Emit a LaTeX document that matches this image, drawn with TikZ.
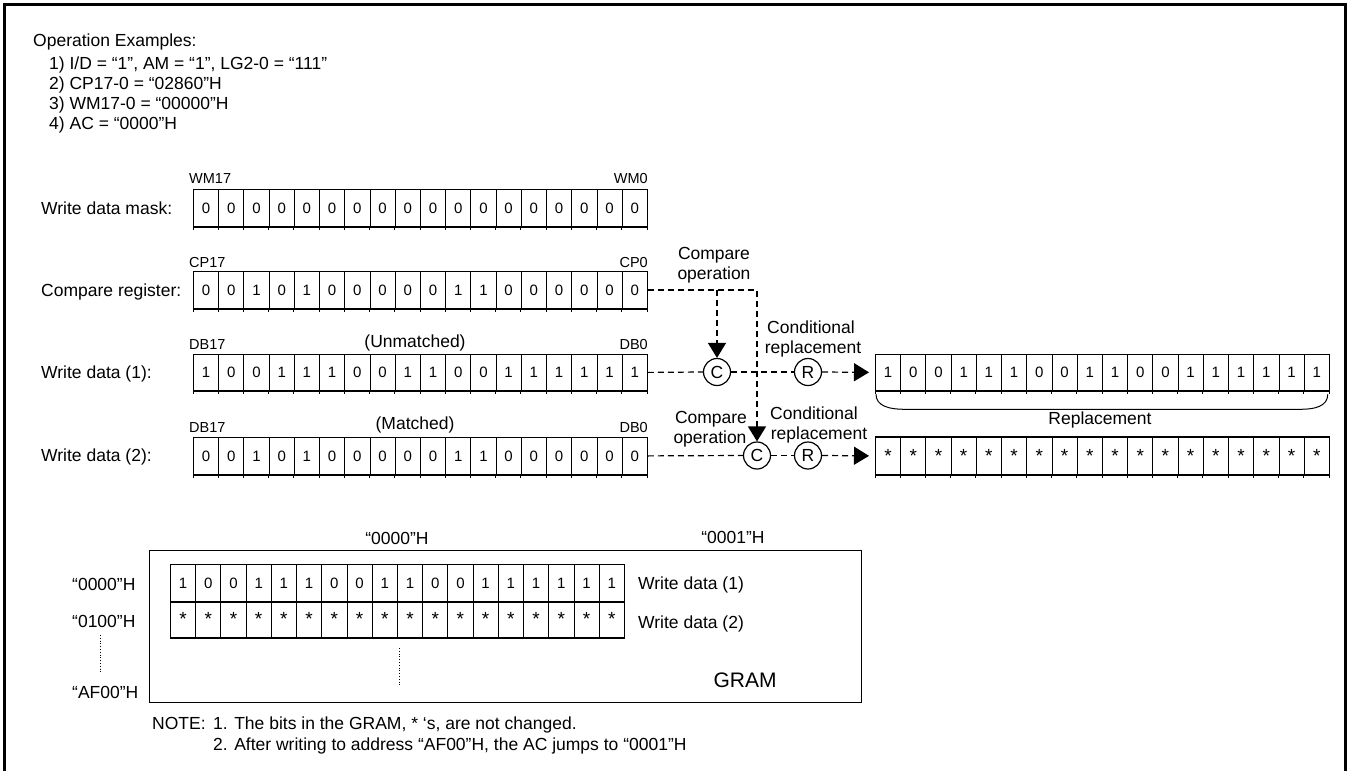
\documentclass[tikz,border=0pt]{standalone}
\usepackage{fontspec}
\setmainfont{Liberation Sans}
\usetikzlibrary{arrows.meta,calc}

\newcommand\mystar{{\fontsize{19}{20}\selectfont *}}
\newcommand\mybitrow[4]{%
  \foreach \v [count=\i] in {#4} {
    \node[bit] (#1\i) at ({#2+(\i-1)*25.22}, #3) {\v};
    \draw[line width=0.8pt] (#1\i.south west) -- ++(0,3);
  }%
  \draw[line width=0.8pt] (#118.south east) -- ++(0,3);
  \draw[line width=1.8pt] (#11.south west) -- (#118.south east);
}
\newcommand\mygramrow[4]{%
  \foreach \v [count=\i] in {#4} {
    \node[bit] (#1\i) at ({#2+(\i-1)*25.22}, #3) {\v};
  }%
  \draw[line width=1.8pt] (#11.south west) -- (#118.south east);
}

\begin{document}
\begin{tikzpicture}[x=1pt,y=-1pt,
  lbl/.style={font=\fontsize{17.5}{20}\selectfont, inner sep=0pt},
  sm/.style={font=\fontsize{14.5}{16}\selectfont, inner sep=0pt},
  bit/.style={draw, line width=0.8pt, minimum width=25.22pt, minimum height=37pt,
    inner sep=0pt, font=\fontsize{15}{16}\selectfont, anchor=north west},
  dsh/.style={dash pattern=on 6pt off 4pt, line width=1.2pt},
  tri/.style={-{Triangle[length=15pt,width=18pt]}},
  circ/.style={draw, circle, minimum size=27pt, inner sep=0pt, line width=1.2pt,
    font=\fontsize{17.5}{20}\selectfont},
]
\useasboundingbox (0,0) rectangle (1353,771);
% frame
\draw[line width=3pt] (4,772) -- (4,4) -- (1345.5,4) -- (1345.5,772);

% operation examples
\node[lbl, anchor=base west] (opex) at (33,46) {Operation Examples:};
\node[lbl, anchor=base west] (ex1) at (49,69) {1) I/D = “1”, AM = “1”, LG2-0 = “111”};
\node[lbl, anchor=base west] (ex2) at (49,89) {2) CP17-0 = “02860”H};
\node[lbl, anchor=base west] (ex3) at (49,109) {3) WM17-0 = “00000”H};
\node[lbl, anchor=base west] (ex4) at (49,129) {4) AC = “0000”H};

% rows
\node[lbl, anchor=base west] (lmask) at (41,214) {Write data mask:};
\node[sm, anchor=base west] (wm17) at (189,183.5) {WM17};
\node[sm, anchor=base east] (wm0) at (648,183.5) {WM0};
\mybitrow{m}{193}{189}{0,0,0,0,0,0,0,0,0,0,0,0,0,0,0,0,0,0}

\node[lbl, anchor=base west] (lcp) at (41,296) {Compare register:};
\node[sm, anchor=base west] (cp17) at (189,267.5) {CP17};
\node[sm, anchor=base east] (cp0) at (648,267.5) {CP0};
\mybitrow{c}{193}{271}{0,0,1,0,1,0,0,0,0,0,1,1,0,0,0,0,0,0}

\node[lbl, anchor=base west] (lwd1) at (41,378.5) {Write data (1):};
\node[sm, anchor=base west] (db17a) at (189,349) {DB17};
\node[sm, anchor=base east] (db0a) at (648,349) {DB0};
\node[lbl, anchor=base] (unm) at (415,347) {(Unmatched)};
\mybitrow{a}{193}{353.5}{1,0,0,1,1,1,0,0,1,1,0,0,1,1,1,1,1,1}

\node[lbl, anchor=base west] (lwd2) at (41,461.5) {Write data (2):};
\node[sm, anchor=base west] (db17b) at (189,432.5) {DB17};
\node[sm, anchor=base east] (db0b) at (648,432.5) {DB0};
\node[lbl, anchor=base] (mat) at (415,429) {(Matched)};
\mybitrow{b}{193}{437}{0,0,1,0,1,0,0,0,0,0,1,1,0,0,0,0,0,0}

% replacement rows
\mybitrow{p}{875}{353.5}{1,0,0,1,1,1,0,0,1,1,0,0,1,1,1,1,1,1}
\mybitrow{q}{875}{437}{\mystar,\mystar,\mystar,\mystar,\mystar,\mystar,\mystar,\mystar,\mystar,\mystar,\mystar,\mystar,\mystar,\mystar,\mystar,\mystar,\mystar,\mystar}
\draw[line width=1.8pt] (q1.north west) -- (q18.north east);
\draw[line width=1pt] (p1.south west) ++(1,3) .. controls +(0,12) and +(-14,0) .. ++(28,15)
  -- ($(p18.south east)+(-29,18)$) .. controls +(14,0) and +(0,12) .. ($(p18.south east)+(-2,3)$);
\node[lbl, anchor=base] (repl) at (1100,424) {Replacement};

% circles
\node[circ] (C1) at (717,372) {C};
\node[circ] (R1) at (808,372) {R};
\node[circ] (C2) at (757,455.5) {C};
\node[circ] (R2) at (808,455.5) {R};

% connectors
\coordinate (br) at (C1 |- c18.east);
\draw[dsh, tri] (c18.east) -| (C2.north);
\draw[dsh, tri] (br) -- (C1.north);
\draw[dsh] (a18.east) -- (C1.west);
\draw[dsh] (C1.east) -- (R1.west);
\draw[dsh, tri, shorten >=6pt] (R1.east) -- (p1.west);
\draw[dsh] (b18.east) -- (C2.west);
\draw[dsh] (C2.east) -- (R2.west);
\draw[dsh, tri, shorten >=6pt] (R2.east) -- (q1.west);

% labels on connectors
\node[lbl, anchor=base] (co1a) at (714,259) {Compare};
\node[lbl, anchor=base] (co1b) at (714,279) {operation};
\node[lbl, anchor=base] (cr1a) at (811,333) {Conditional};
\node[lbl, anchor=base] (cr1b) at (813,353) {replacement};
\node[lbl, anchor=base] (co2a) at (711,423) {Compare};
\node[lbl, anchor=base] (co2b) at (710,443) {operation};
\node[lbl, anchor=base] (cr2a) at (814,419) {Conditional};
\node[lbl, anchor=base] (cr2b) at (819,439) {replacement};

% GRAM
\node[draw, line width=1.2pt, minimum width=712pt, minimum height=152pt, inner sep=0pt,
  anchor=north west] (gram) at (149,550) {};
\node[lbl, anchor=base] (h0) at (397,544) {“0000”H};
\node[lbl, anchor=base] (h1) at (733,543.5) {“0001”H};
\mygramrow{g}{170}{564}{1,0,0,1,1,1,0,0,1,1,0,0,1,1,1,1,1,1}
\mygramrow{h}{170}{600.5}{\mystar,\mystar,\mystar,\mystar,\mystar,\mystar,\mystar,\mystar,\mystar,\mystar,\mystar,\mystar,\mystar,\mystar,\mystar,\mystar,\mystar,\mystar}
\node[lbl, anchor=base west] (gw1) at (638,589) {Write data (1)};
\node[lbl, anchor=base west] (gw2) at (638,628) {Write data (2)};
\node[font=\fontsize{21}{24}\selectfont, inner sep=0pt, anchor=base] (gl) at (745,687.5) {GRAM};
\node[lbl, anchor=base west] (ad0) at (72,590) {“0000”H};
\node[lbl, anchor=base west] (ad1) at (72,627) {“0100”H};
\node[lbl, anchor=base west] (ad2) at (72,698) {“AF00”H};
\draw[dotted, line width=0.8pt] (100,635) -- (100,672);
\draw[dotted, line width=0.8pt] (399,648) -- (399,685);

% note
\node[lbl, anchor=base west] (note) at (152,729) {NOTE:};
\node[lbl, anchor=base west] (n1) at (213,729) {1. The bits in the GRAM, * ‘s, are not changed.};
\node[lbl, anchor=base west] (n2) at (213,750) {2. After writing to address “AF00”H, the AC jumps to “0001”H};
\end{tikzpicture}
\end{document}
